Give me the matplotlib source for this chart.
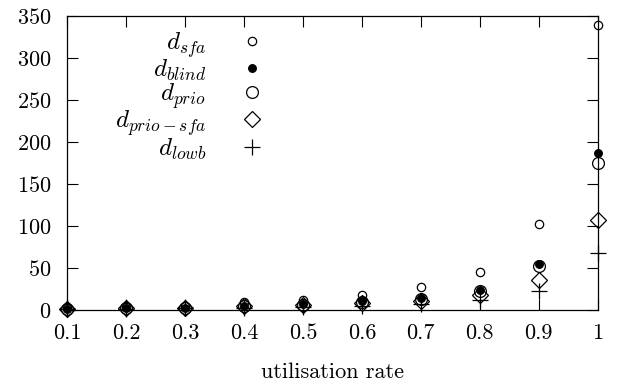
import numpy as np
import matplotlib
matplotlib.use("Agg")
import matplotlib.pyplot as plt

plt.rcParams["font.family"] = "serif"
plt.rcParams["font.serif"] = ["cmr10", "DejaVu Serif"]
plt.rcParams["mathtext.fontset"] = "cm"
plt.rcParams["axes.formatter.use_mathtext"] = True

rates = [0.1, 0.2, 0.3, 0.4, 0.5, 0.6, 0.7, 0.8, 0.9, 1.0]
d_sfa = [2, 4, 5, 9, 12, 18, 28, 45, 102, 339]
d_blind = [1, 2, 3, 5, 7, 11, 14, 24, 55, 187]
d_prio = [1, 2, 3, 5, 6, 9, 13, 23, 52, 175]
d_prio_sfa = [1, 2, 3, 5, 6, 8, 11, 18, 36, 107]
d_lowb = [1, 1.5, 2, 3, 4, 5, 7, 12, 23, 68]

series = [
    (d_sfa, r"$d_{sfa}$", dict(marker="o", ms=6, mfc="white", mec="black", mew=0.9)),
    (d_blind, r"$d_{blind}$", dict(marker="o", ms=5.5, mfc="black", mec="black", mew=0.9)),
    (d_prio, r"$d_{prio}$", dict(marker="o", ms=8.5, mfc="none", mec="black", mew=0.9)),
    (d_prio_sfa, r"$d_{prio-sfa}$", dict(marker="D", ms=8, mfc="none", mec="black", mew=0.9)),
    (d_lowb, r"$d_{lowb}$", dict(marker="+", ms=12, mec="black", mew=0.9)),
]

fig = plt.figure(figsize=(6.24, 3.9), dpi=100)
ax = fig.add_axes([0.1074, 0.205, 0.8506, 0.754])

for vals, label, style in series:
    ax.plot(rates, vals, ls="none", label=label, clip_on=False, **style)

ax.set_xlim(0.1, 1.0)
ax.set_ylim(0, 350)
ax.set_xticks(rates)
ax.set_xticklabels(["0.1", "0.2", "0.3", "0.4", "0.5", "0.6", "0.7", "0.8", "0.9", "1"])
ax.set_yticks(np.arange(0, 351, 50))
ax.tick_params(direction="in", length=8, width=0.8, top=True, right=True,
               labelsize=16)
ax.tick_params(axis="y", pad=11)
ax.tick_params(axis="x", pad=10)
for sp in ax.spines.values():
    sp.set_linewidth(0.9)
ax.set_xlabel("utilisation rate", fontsize=16, labelpad=14)

ax.legend(loc="upper right", bbox_to_anchor=(0.380, 0.953), markerfirst=False,
          frameon=False, fontsize=18, handlelength=1.3, labelspacing=-0.08,
          handletextpad=1.2, borderaxespad=0, borderpad=0)

fig.savefig("out.png", dpi=100)
